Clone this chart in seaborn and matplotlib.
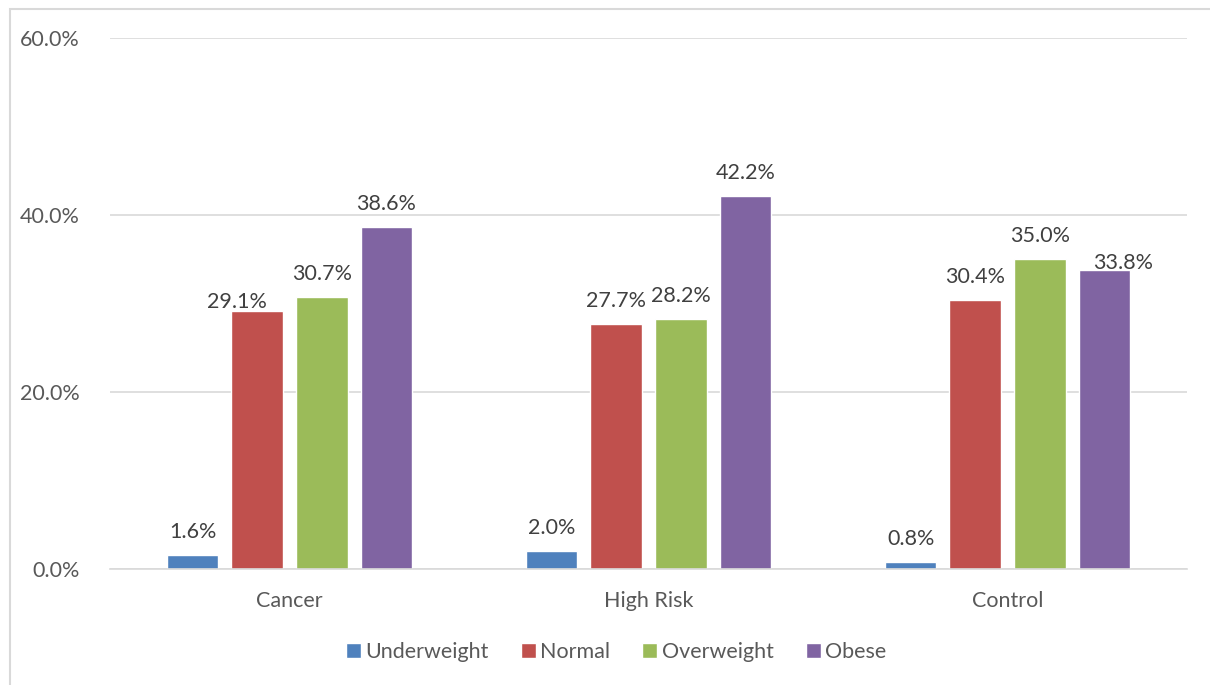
import matplotlib
matplotlib.use("Agg")
import matplotlib.pyplot as plt
from matplotlib.patches import Rectangle
import seaborn as sns
import pandas as pd

groups = ["Cancer", "High Risk", "Control"]
bmi_classes = ["Underweight", "Normal", "Overweight", "Obese"]
underweight = [1.6, 2.0, 0.8]
normal = [29.1, 27.7, 30.4]
overweight = [30.7, 28.2, 35.0]
obese = [38.6, 42.2, 33.8]
y_ticks = [0, 20, 40, 60]
colors = ["#4F81BD", "#C0504D", "#9BBB59", "#8064A2"]

series = [underweight, normal, overweight, obese]
rows = []
for cls, vals in zip(bmi_classes, series):
    for g, v in zip(groups, vals):
        rows.append({"group": g, "bmi": cls, "pct": v})
df = pd.DataFrame(rows)

sns.set_theme(style="white")
plt.rcParams["font.family"] = ["Lato", "DejaVu Sans"]
FS = 15.5

fig = plt.figure(figsize=(12.10, 6.85), dpi=100)
ax = fig.add_axes([110 / 1210, 1 - 569 / 685, 1077 / 1210, 531 / 685])

sns.barplot(data=df, x="group", y="pct", hue="bmi", order=groups,
            hue_order=bmi_classes, palette=colors, width=0.72, gap=0.2,
            saturation=1, ax=ax, legend=True)

ax.set_ylim(0, 60)
ax.set_xlim(-0.5, 2.5)
ax.set_yticks(y_ticks)
ax.set_yticklabels([f"{t:.1f}%" for t in y_ticks])
ax.set_xlabel("")
ax.set_ylabel("")
ax.grid(axis="y", color="#D9D9D9", linewidth=1.2)
ax.set_axisbelow(True)
for s in ["top", "right", "left"]:
    ax.spines[s].set_visible(False)
ax.spines["bottom"].set_color("#D9D9D9")
ax.spines["bottom"].set_linewidth(1.2)
ax.tick_params(axis="both", length=0, labelsize=FS, colors="#595959")
ax.tick_params(axis="y", pad=22)
ax.tick_params(axis="x", pad=16)

# data labels; two are nudged so they do not collide with neighbours
nudge = {(1, 0): (-20, 9), (3, 2): (19, 7)}
for si, cont in enumerate(ax.containers):
    for gi, bar in enumerate(cont):
        val = series[si][gi]
        dx, dy = nudge.get((si, gi), (0, 23))
        ax.annotate(f"{val:.1f}%", (bar.get_x() + bar.get_width() / 2, val),
                    xytext=(dx * 0.72, dy * 0.72), textcoords="offset points",
                    ha="center", va="center", fontsize=FS, color="#404040")

handles, labels = ax.get_legend_handles_labels()
ax.legend(handles, labels, loc="center", bbox_to_anchor=(616 / 1210, 1 - 652 / 685),
          bbox_transform=fig.transFigure, ncol=4, frameon=False, fontsize=FS,
          handlelength=0.7, handleheight=0.7, handletextpad=0.2,
          columnspacing=1.5, labelcolor="#595959")

# chart frame
fig.patches.append(Rectangle((10 / 1210, -0.05), 1.2, 1 - 9 / 685 + 0.05,
                             transform=fig.transFigure, fill=False,
                             edgecolor="#D9D9D9", linewidth=1.5))

fig.savefig("out.png", dpi=100, facecolor="white")
